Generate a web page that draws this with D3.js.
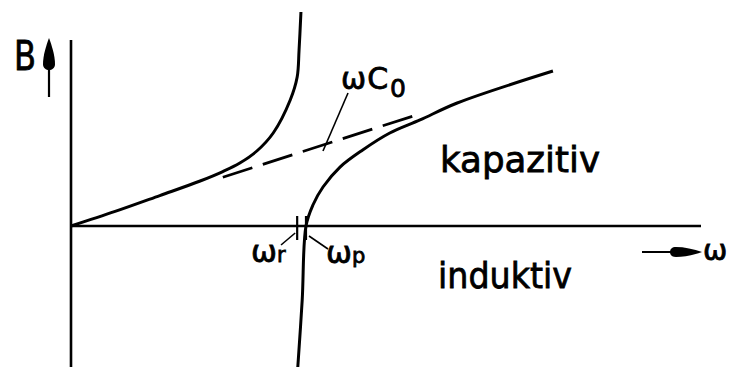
<!DOCTYPE html>
<html>
<head>
<meta charset="utf-8">
<script src="https://cdn.jsdelivr.net/npm/d3@7"></script>
<style>
  html, body { margin: 0; padding: 0; background: #fff; }
  svg { display: block; }
  text { font-family: "DejaVu Sans", "Liberation Sans", sans-serif; fill: #000; stroke: #000; stroke-width: 0.8px; }
</style>
</head>
<body>
<svg id="chart" width="731" height="367"></svg>
<script>
// Susceptance B of a quartz resonator versus angular frequency ω (arbitrary units)

// branch below the series resonance (capacitive, rising to the pole)
const omegaLow = [0, 0.70, 1.41, 2.05, 2.41, 2.68, 2.95, 3.21, 3.48, 3.59, 3.62, 3.65];
const bLow     = [0, 0.97, 2.03, 3.00, 3.63, 4.20, 5.00, 6.20, 8.40, 9.93, 11.73, 14.27];

// branch above the pole, crossing zero at ωp and joining ωC0
const omegaHigh = [3.60, 3.67, 3.73, 3.84, 4.00, 4.27, 4.63, 5.06, 5.54, 6.13, 7.65];
const bHigh     = [-9.4, -4.93, 0, 1.40, 2.60, 3.93, 5.07, 6.20, 7.07, 8.20, 10.33];

// asymptote ωC0 (shown dashed between the branches)
const omegaC0 = [2.41, 5.54];
const bC0     = [3.25, 7.48];

// characteristic frequencies
const omegaR = 3.59;
const omegaP = 3.73;

// axis extents
const omegaAxis = [0, 10];
const bAxis = [-10, 12.4];

const svg = d3.select("#chart");
const x = d3.scaleLinear().domain([0, 10]).range([71, 701]);
const y = d3.scaleLinear().domain([-10, 15]).range([376, 1]);

const line = d3.line()
  .x(d => x(d[0]))
  .y(d => y(d[1]))
  .curve(d3.curveCatmullRom.alpha(0.5));

const zip = (a, b) => a.map((v, i) => [v, b[i]]);

// axes
svg.append("line")
  .attr("x1", x(0)).attr("x2", x(0))
  .attr("y1", y(bAxis[1])).attr("y2", y(bAxis[0]))
  .attr("stroke", "#000").attr("stroke-width", 2.6);
svg.append("line")
  .attr("x1", x(omegaAxis[0])).attr("x2", x(omegaAxis[1]))
  .attr("y1", y(0)).attr("y2", y(0))
  .attr("stroke", "#000").attr("stroke-width", 2.6);

// curves
svg.append("path")
  .attr("d", line(zip(omegaLow, bLow)))
  .attr("fill", "none").attr("stroke", "#000").attr("stroke-width", 3);
svg.append("path")
  .attr("d", line(zip(omegaHigh, bHigh)))
  .attr("fill", "none").attr("stroke", "#000").attr("stroke-width", 3);
svg.append("path")
  .attr("d", d3.line().x(d => x(d[0])).y(d => y(d[1]))(zip(omegaC0, bC0)))
  .attr("fill", "none").attr("stroke", "#000").attr("stroke-width", 2.8)
  .attr("stroke-dasharray", "31,11");

// ωr / ωp markers
[omegaR, omegaP].forEach(w => {
  svg.append("line")
    .attr("x1", x(w)).attr("x2", x(w))
    .attr("y1", y(0) - 10).attr("y2", y(0) + 14)
    .attr("stroke", "#000").attr("stroke-width", 2.2);
});
svg.append("line")
  .attr("x1", 281).attr("y1", 245).attr("x2", x(omegaR) - 2).attr("y2", y(0) + 7)
  .attr("stroke", "#000").attr("stroke-width", 1.6);
svg.append("line")
  .attr("x1", 328).attr("y1", 249).attr("x2", x(omegaP) + 3).attr("y2", y(0) + 10)
  .attr("stroke", "#000").attr("stroke-width", 1.6);

// leader to the asymptote
svg.append("line")
  .attr("x1", 348).attr("y1", 93).attr("x2", 323).attr("y2", 151)
  .attr("stroke", "#000").attr("stroke-width", 1.6);

// B arrow
svg.append("line")
  .attr("x1", 49).attr("x2", 49).attr("y1", 97).attr("y2", 66)
  .attr("stroke", "#000").attr("stroke-width", 2.2);
svg.append("path")
  .attr("d", "M49,38 C52,46 55,56 55,64 C55,68 52,70 49,70 C46,70 43,68 43,64 C43,56 46,46 49,38 Z")
  .attr("fill", "#000");

// ω arrow
svg.append("line")
  .attr("x1", 642).attr("x2", 680).attr("y1", 252).attr("y2", 252)
  .attr("stroke", "#000").attr("stroke-width", 2.2);
svg.append("path")
  .attr("d", "M702,252 C694,249 684,247 676,247 C672,247 670,249 670,252 C670,255 672,257 676,257 C684,257 694,255 702,252 Z")
  .attr("fill", "#000");

// labels
svg.append("text").attr("x", 14).attr("y", 70)
  .attr("font-size", 40).attr("textLength", 22).attr("lengthAdjust", "spacingAndGlyphs")
  .text("B");

const wc = svg.append("text").attr("x", 341).attr("y", 89).attr("font-size", 30);
wc.append("tspan").text("ω");
wc.append("tspan").attr("dx", 1).text("C");
wc.append("tspan").attr("font-size", 25).attr("dy", 8).attr("dx", 2).text("0");

const wr = svg.append("text").attr("x", 251).attr("y", 262).attr("font-size", 31);
wr.append("tspan").text("ω");
wr.append("tspan").attr("font-size", 21).text("r");

const wp = svg.append("text").attr("x", 326).attr("y", 263).attr("font-size", 31);
wp.append("tspan").text("ω");
wp.append("tspan").attr("font-size", 21).text("p");

svg.append("text").attr("x", 440).attr("y", 172)
  .attr("font-size", 36).attr("textLength", 160).attr("lengthAdjust", "spacingAndGlyphs")
  .text("kapazitiv");
svg.append("text").attr("x", 438).attr("y", 288)
  .attr("font-size", 36).attr("textLength", 134).attr("lengthAdjust", "spacingAndGlyphs")
  .text("induktiv");

svg.append("text").attr("x", 703).attr("y", 260).attr("font-size", 29).text("ω");
</script>
</body>
</html>
